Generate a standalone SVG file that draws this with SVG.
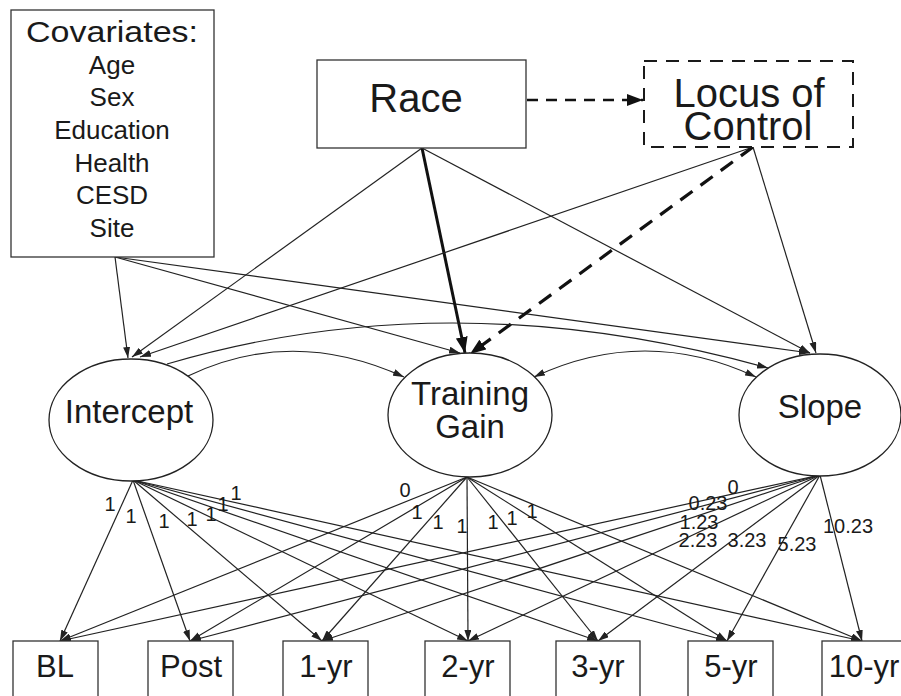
<svg xmlns="http://www.w3.org/2000/svg" width="901" height="696" viewBox="0 0 901 696">
<style>
  text { font-family: "Liberation Sans", Arial, sans-serif; fill: #1a1a1a; text-anchor: middle; }
  .box { fill: #fff; stroke: #333; stroke-width: 1.3; }
  .dbox { fill: #fff; stroke: #1a1a1a; stroke-width: 2; stroke-dasharray: 13 9; }
  .ell { fill: #fff; stroke: #222; stroke-width: 1.3; }
  .ln { fill: none; stroke: #222; stroke-width: 1.2; marker-end: url(#ah); }
  .bold { fill: none; stroke: #111; stroke-width: 3; marker-end: url(#ahb); }
  .dash { fill: none; stroke: #111; stroke-width: 3.2; stroke-dasharray: 15 10; marker-end: url(#ahb); }
  .dash2 { fill: none; stroke: #111; stroke-width: 2.6; stroke-dasharray: 11 8; marker-end: url(#ahb); }
  .big { font-size: 40px; }
  .lat { font-size: 33px; }
  .obs { font-size: 31px; }
  .item { font-size: 26px; }
  .lab { font-size: 20px; }
</style>
<defs>
  <marker id="ah" markerUnits="userSpaceOnUse" markerWidth="11" markerHeight="7" refX="11" refY="3.5" orient="auto">
    <path d="M0,0 L11,3.5 L0,7 z" fill="#222"/>
  </marker>
  <marker id="ahs" markerUnits="userSpaceOnUse" markerWidth="11" markerHeight="7" refX="0" refY="3.5" orient="auto">
    <path d="M11,0 L0,3.5 L11,7 z" fill="#222"/>
  </marker>
  <marker id="ahb" markerUnits="userSpaceOnUse" markerWidth="16" markerHeight="12" refX="16" refY="6" orient="auto">
    <path d="M0,0 L16,6 L0,12 z" fill="#111"/>
  </marker>
</defs>

<g id="connectors">
  <!-- covariates to latents -->
  <path class="ln" d="M115,257 L128,358"/>
  <path class="ln" d="M115,257 L460,353"/>
  <path class="ln" d="M115,257 L810,353"/>
  <!-- race -->
  <path class="ln" d="M422,148 L132,357"/>
  <path class="bold" d="M422,148 L465,353"/>
  <path class="ln" d="M422,148 L810,353"/>
  <path class="dash2" d="M527,100 L643,100"/>
  <!-- locus of control -->
  <path class="ln" d="M753,147 L140,357"/>
  <path class="dash" d="M753,147 L470,354"/>
  <path class="ln" d="M753,147 L816,353"/>
  <!-- covariances between latents -->
  <path class="ln" d="M188,376 Q292,326 404,377"/>
  <path class="ln" d="M167,364 Q452,280 768,368"/>
  <path class="ln" d="M534,377 Q645,325 756,377" marker-start="url(#ahs)"/>
  <!-- intercept loadings -->
  <path class="ln" d="M133,480 L60,641"/>
  <path class="ln" d="M133,480 L190,641"/>
  <path class="ln" d="M133,480 L322,641"/>
  <path class="ln" d="M133,480 L468,641"/>
  <path class="ln" d="M133,480 L598,641"/>
  <path class="ln" d="M133,480 L727,641"/>
  <path class="ln" d="M133,480 L862,641"/>
  <!-- training gain loadings -->
  <path class="ln" d="M467,477 L60,641"/>
  <path class="ln" d="M467,477 L190,641"/>
  <path class="ln" d="M467,477 L322,641"/>
  <path class="ln" d="M467,477 L468,641"/>
  <path class="ln" d="M467,477 L598,641"/>
  <path class="ln" d="M467,477 L727,641"/>
  <path class="ln" d="M467,477 L862,641"/>
  <!-- slope loadings -->
  <path class="ln" d="M820,475 L60,641"/>
  <path class="ln" d="M820,475 L190,641"/>
  <path class="ln" d="M820,475 L322,641"/>
  <path class="ln" d="M820,475 L468,641"/>
  <path class="ln" d="M820,475 L598,641"/>
  <path class="ln" d="M820,475 L727,641"/>
  <path class="ln" d="M820,475 L862,641"/>
  <!-- loading labels -->
  <g class="lab">
    <text x="110" y="511">1</text>
    <text x="131" y="523">1</text>
    <text x="164" y="528">1</text>
    <text x="192" y="526">1</text>
    <text x="211" y="521">1</text>
    <text x="223" y="511">1</text>
    <text x="236" y="500">1</text>
    <text x="405" y="497">0</text>
    <text x="417" y="519">1</text>
    <text x="438" y="529">1</text>
    <text x="462" y="533">1</text>
    <text x="493" y="529">1</text>
    <text x="512" y="525">1</text>
    <text x="532" y="518">1</text>
    <text x="733" y="494">0</text>
    <text x="708" y="510">0.23</text>
    <text x="699" y="529">1.23</text>
    <text x="698" y="547">2.23</text>
    <text x="747" y="547">3.23</text>
    <text x="797" y="551">5.23</text>
    <text x="848" y="533">10.23</text>
  </g>
</g>

<g id="covariates">
  <rect class="box" x="11" y="10" width="203" height="247"/>
  <text x="112" y="42" style="font-size:30px" textLength="172" lengthAdjust="spacingAndGlyphs">Covariates:</text>
  <text class="item" x="112" y="74">Age</text>
  <text class="item" x="112" y="106">Sex</text>
  <text class="item" x="112" y="139">Education</text>
  <text class="item" x="112" y="172">Health</text>
  <text class="item" x="112" y="204">CESD</text>
  <text class="item" x="112" y="237">Site</text>
</g>

<g id="race">
  <rect class="box" x="317" y="60" width="209" height="88"/>
  <text class="big" x="416" y="112">Race</text>
</g>

<g id="locus">
  <rect class="dbox" x="644" y="61" width="209" height="86"/>
  <text class="big" x="749" y="107">Locus of</text>
  <text class="big" x="748" y="140">Control</text>
</g>

<g id="intercept">
  <ellipse class="ell" cx="131" cy="420" rx="82" ry="61"/>
  <text class="lat" x="129" y="423">Intercept</text>
</g>

<g id="training-gain">
  <ellipse class="ell" cx="470" cy="415" rx="82" ry="62"/>
  <text class="lat" x="470" y="405">Training</text>
  <text class="lat" x="470" y="438">Gain</text>
</g>

<g id="slope">
  <ellipse class="ell" cx="820" cy="415" rx="81" ry="61"/>
  <text class="lat" x="820" y="418">Slope</text>
</g>

<g id="bl"><rect class="box" x="13" y="641" width="85" height="60"/><text class="obs" x="55" y="677">BL</text></g>
<g id="post"><rect class="box" x="148" y="641" width="85" height="60"/><text class="obs" x="191" y="677">Post</text></g>
<g id="yr1"><rect class="box" x="283" y="641" width="85" height="60"/><text class="obs" x="326" y="677">1-yr</text></g>
<g id="yr2"><rect class="box" x="425" y="641" width="85" height="60"/><text class="obs" x="468" y="677">2-yr</text></g>
<g id="yr3"><rect class="box" x="556" y="641" width="84" height="60"/><text class="obs" x="598" y="677">3-yr</text></g>
<g id="yr5"><rect class="box" x="688" y="641" width="85" height="60"/><text class="obs" x="731" y="677">5-yr</text></g>
<g id="yr10"><rect class="box" x="822" y="641" width="85" height="60"/><text class="obs" x="864" y="677">10-yr</text></g>
</svg>
